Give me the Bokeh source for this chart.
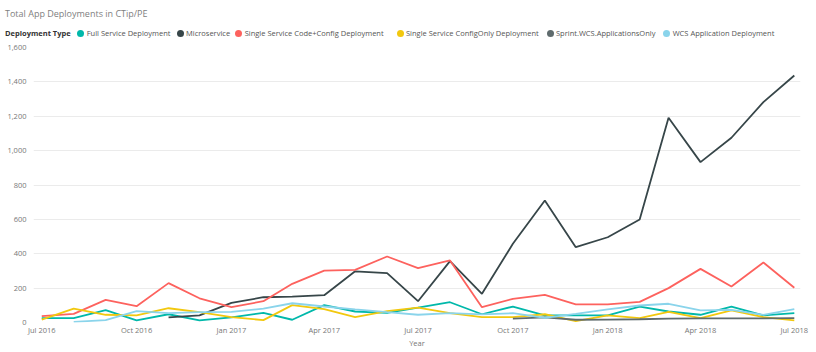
import numpy as np
import pandas as pd
from bokeh.plotting import figure
from bokeh.layouts import column
from bokeh.models import Range1d, FixedTicker, NumeralTickFormatter, Div
from bokeh.embed import file_html
from bokeh.resources import INLINE

# ---------------- data ----------------
months = ["2016-07", "2016-08", "2016-09", "2016-10", "2016-11", "2016-12",
          "2017-01", "2017-02", "2017-03", "2017-04", "2017-05", "2017-06",
          "2017-07", "2017-08", "2017-09", "2017-10", "2017-11", "2017-12",
          "2018-01", "2018-02", "2018-03", "2018-04", "2018-05", "2018-06",
          "2018-07"]

full_service = [25, 25, 72, 12, 48, 12, 30, 56, 16, 101, 64, 56, 86, 118, 48,
                93, 41, 41, 41, 93, 64, 45, 93, 41, 54]
microservice = [None, None, None, None, 30, 41, 114, 147, 150, 159, 298, 287,
                124, 357, 167, 458, 710, 438, 496, 599, 1191, 933, 1075, 1282,
                1437]
code_config = [37, 50, 132, 95, 229, 141, 89, 124, 225, 302, 306, 384, 316,
               361, 89, 138, 161, 105, 105, 120, 200, 312, 209, 349, 202]
config_only = [17, 81, 45, 41, 83, 60, 31, 14, 101, 78, 31, 66, 86, 54, 31, 31,
               48, 8, 41, 25, 62, 25, 70, 31, 12]
sprint_wcs = [None, None, None, None, None, None, None, None, None, None, None,
              None, None, None, None, 22, 30, 16, 17, 19, 22, 24, 24, 24, 25]
wcs_app = [None, 4, 14, 66, 54, 60, 62, 81, 112, 93, 76, 60, 45, 54, 47, 54,
           27, 50, 76, 99, 109, 70, 74, 45, 78]

series_names = ["Full Service Deployment", "Microservice",
                "Single Service Code+Config Deployment",
                "Single Service ConfigOnly Deployment",
                "Sprint.WCS.ApplicationsOnly", "WCS Application Deployment"]
series_values = [full_service, microservice, code_config, config_only,
                 sprint_wcs, wcs_app]
colors = ["#01B8AA", "#374649", "#FD625E", "#F2C80F", "#5F6B6D", "#8AD4EB"]

tick_months = ["2016-07", "2016-10", "2017-01", "2017-04", "2017-07",
               "2017-10", "2018-01", "2018-04", "2018-07"]
tick_labels = ["Jul 2016", "Oct 2016", "Jan 2017", "Apr 2017", "Jul 2017",
               "Oct 2017", "Jan 2018", "Apr 2018", "Jul 2018"]
y_ticks = [0, 200, 400, 600, 800, 1000, 1200, 1400, 1600]

title_text = "Total App Deployments in CTip/PE"
legend_title = "Deployment Type"
x_title = "Year"

# ---------------- layout constants (pixels) ----------------
HEADER_H = 42
legend_dot_x = [80.7, 180, 238.7, 400, 550, 666.7]
LEGEND_Y = 33
TITLE_Y = 14
FONT = "Open Sans"

# ---------------- header (title + legend) as real text ----------------
def span(left, cy, text, size, color, weight="normal", lh=12):
    return ('<span style="position:absolute;left:%spx;top:%spx;'
            'line-height:%dpx;font-size:%s;color:%s;font-weight:%s;'
            'white-space:nowrap;font-family:\'%s\';">%s</span>'
            % (left, cy - lh / 2, lh, size, color, weight, FONT, text))

parts = ['<div style="position:relative;width:816px;height:%dpx;">' % HEADER_H]
parts.append(span(5, TITLE_Y, title_text, "9px", "#808080"))
parts.append(span(5, LEGEND_Y, legend_title, "7.5px", "#333333", "bold"))
for cx, name, col in zip(legend_dot_x, series_names, colors):
    parts.append('<span style="position:absolute;left:%spx;top:%spx;'
                 'width:7px;height:7px;border-radius:50%%;background:%s;"></span>'
                 % (cx - 3.5, LEGEND_Y - 3.5, col))
    parts.append(span(cx + 6, LEGEND_Y, name, "7.5px", "#555555"))
parts.append('</div>')
header = Div(text="".join(parts), width=816, height=HEADER_H, margin=0)

# ---------------- main chart ----------------
dates = pd.to_datetime(months)

p = figure(width=816, height=352 - HEADER_H, x_axis_type="datetime",
           x_range=Range1d(pd.Timestamp("2016-06-23"), pd.Timestamp("2018-07-07")),
           y_range=Range1d(0, 1600),
           output_backend="svg", toolbar_location=None, title=None,
           min_border_left=33, min_border_right=16, min_border_top=5,
           min_border_bottom=30)
p.outline_line_color = None
p.background_fill_color = "white"
p.border_fill_color = "white"

tick_ms = [pd.Timestamp(m).value / 1e6 for m in tick_months]
p.xaxis.ticker = FixedTicker(ticks=tick_ms)
p.xaxis.major_label_overrides = {t: l for t, l in zip(tick_ms, tick_labels)}
p.yaxis.ticker = FixedTicker(ticks=y_ticks)
p.yaxis.formatter = NumeralTickFormatter(format="0,0")

for ax in (p.xaxis, p.yaxis):
    ax.axis_line_color = None
    ax.major_tick_line_color = None
    ax.minor_tick_line_color = None
    ax.major_tick_out = 0
    ax.major_tick_in = 0
    ax.minor_tick_out = 0
    ax.minor_tick_in = 0
    ax.major_label_text_font = FONT
    ax.major_label_text_font_size = "7.5px"
    ax.major_label_text_color = "#777777"
p.yaxis.major_label_standoff = 7
p.xaxis.major_label_standoff = 2
p.xaxis.axis_label = x_title
p.xaxis.axis_label_text_font = FONT
p.xaxis.axis_label_text_font_size = "7.5px"
p.xaxis.axis_label_text_font_style = "normal"
p.xaxis.axis_label_text_color = "#777777"
p.xaxis.axis_label_standoff = 0

p.xgrid.grid_line_color = None
p.ygrid.grid_line_color = "#ebebeb"
p.ygrid.grid_line_width = 1

for name, vals, col in zip(series_names, series_values, colors):
    y = np.array([np.nan if v is None else v for v in vals], dtype=float)
    p.line(dates, y, line_color=col, line_width=1.8)

layout = column(header, p, spacing=0)
open("out.html", "w").write(file_html(layout, INLINE))
